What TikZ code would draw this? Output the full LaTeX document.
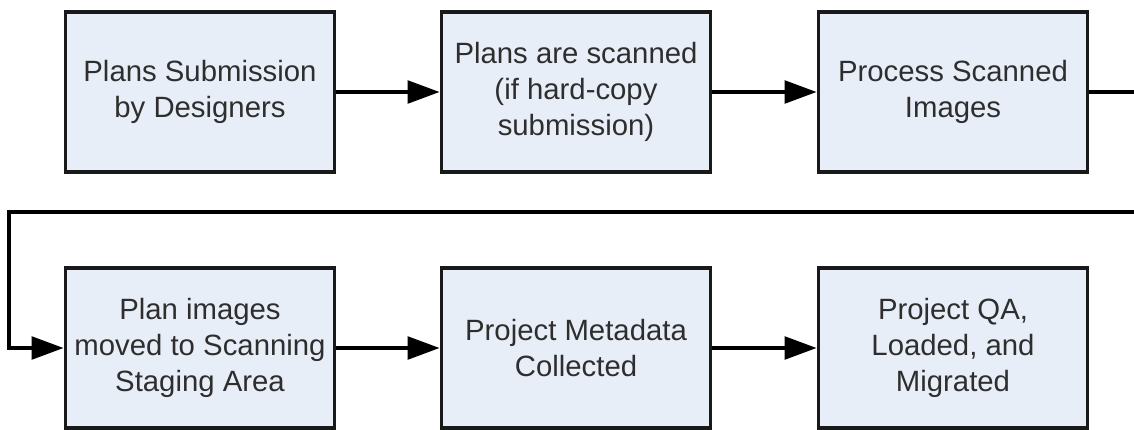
\documentclass[tikz,border=0pt]{standalone}
\usepackage{fontspec}
\setmainfont{Liberation Sans}
\usetikzlibrary{arrows.meta}
\definecolor{boxfill}{HTML}{E8EEF8}
\definecolor{boxtext}{HTML}{2E2E2E}
\tikzset{stepbox/.style={draw=black!90,fill=boxfill,minimum width=202pt,minimum height=120pt,
  align=center,text=boxtext,font=\fontsize{22}{27}\selectfont,inner sep=0pt}}
\tikzset{flow/.style={draw=black,-{Triangle[length=24pt,width=17pt]}}}

\begin{document}
\begin{tikzpicture}[x=0.75pt,y=-0.75pt,line width=2.6pt]
\clip (0,0) rectangle (1134,429);
\node[stepbox] (submit) at (200,92) {Plans Submission\\by Designers};
\node[stepbox] (scan) at (576,92) {Plans are scanned\\(if hard-copy\\submission)};
\node[stepbox] (process) at (953,92) {Process Scanned\\Images};
\node[stepbox] (staging) at (200,348) {Plan images\\moved to Scanning\\Staging Area};
\node[stepbox] (meta) at (576,348) {Project Metadata\\Collected};
\node[stepbox] (load) at (953,348) {Project QA,\\Loaded, and\\Migrated};
\coordinate (edge) at (1160,92);
\coordinate (turn) at (1160,212);
\coordinate (back) at (9,212);
\coordinate (down) at (9,348);
\draw[flow] (submit) -- (scan);
\draw[flow] (scan) -- (process);
\draw[flow] (process.east) -- (edge) -- (turn) -- (back) -- (down) -- (staging.west);
\draw[flow] (staging) -- (meta);
\draw[flow] (meta) -- (load);

\end{tikzpicture}
\end{document}
